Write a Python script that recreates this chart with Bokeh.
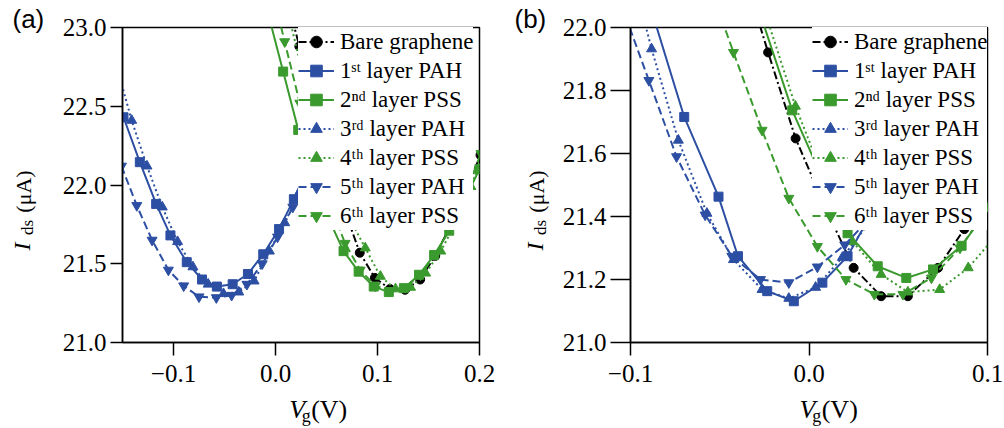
import math
from bokeh.plotting import figure
from bokeh.layouts import row, column
from bokeh.models import Label, Legend, LegendItem, FixedTicker, PrintfTickFormatter
from bokeh.embed import file_html
from bokeh.resources import INLINE

# ---------------- data ----------------
series_labels = ["Bare graphene", "1ˢᵗ layer PAH", "2ⁿᵈ layer PSS", "3ʳᵈ layer PAH",
                 "4ᵗʰ layer PSS", "5ᵗʰ layer PAH", "6ᵗʰ layer PSS"]

# panel (a)
a_bare_x = [0.0086, 0.0234, 0.0382, 0.0530, 0.0678, 0.0826, 0.0974, 0.1122, 0.1270, 0.1418, 0.1566, 0.1714, 0.1862, 0.2010]
a_bare_y = [23.25, 22.88, 22.50, 22.15, 21.84, 21.57, 21.41, 21.34, 21.335, 21.40, 21.55, 21.74, 21.96, 22.19]
a_pah1_x = [-0.149, -0.133, -0.117, -0.103, -0.087, -0.072, -0.0575, -0.042, -0.027, -0.012, 0.0035, 0.018, 0.033, 0.048, 0.063, 0.078, 0.093]
a_pah1_y = [22.43, 22.145, 21.88, 21.68, 21.51, 21.40, 21.355, 21.37, 21.435, 21.56, 21.72, 21.91, 22.13, 22.37, 22.62, 22.88, 23.15]
a_pss2_x = [-0.0073, 0.0075, 0.0223, 0.0371, 0.0519, 0.0667, 0.0815, 0.0963, 0.1111, 0.1259, 0.1407, 0.1555, 0.1703, 0.1851, 0.1999]
a_pss2_y = [23.09, 22.72, 22.35, 22.05, 21.79, 21.58, 21.45, 21.355, 21.32, 21.345, 21.43, 21.555, 21.71, 21.90, 22.10]
a_pah3_x = [-0.156, -0.141, -0.126, -0.111, -0.096, -0.081, -0.066, -0.051, -0.036, -0.021, -0.006, 0.009, 0.024, 0.039, 0.054, 0.069, 0.084]
a_pah3_y = [22.76, 22.41, 22.12, 21.86, 21.64, 21.48, 21.37, 21.31, 21.32, 21.39, 21.58, 21.76, 21.96, 22.20, 22.45, 22.72, 23.00]
a_pss4_x = [0.0140, 0.0288, 0.0436, 0.0584, 0.0732, 0.0880, 0.1028, 0.1176, 0.1324, 0.1472, 0.1620, 0.1768, 0.1916, 0.2064]
a_pss4_y = [23.05, 22.65, 22.30, 22.00, 21.78, 21.60, 21.42, 21.34, 21.35, 21.44, 21.58, 21.76, 21.99, 22.25]
a_pah5_x = [-0.151, -0.136, -0.121, -0.105, -0.090, -0.075, -0.058, -0.043, -0.028, -0.013, 0.002, 0.017, 0.032, 0.047, 0.062, 0.077, 0.092]
a_pah5_y = [22.12, 21.87, 21.65, 21.46, 21.36, 21.29, 21.285, 21.30, 21.37, 21.50, 21.67, 21.86, 22.08, 22.32, 22.58, 22.85, 23.12]
a_pss6_x = [-0.0058, 0.0090, 0.0238, 0.0386, 0.0534, 0.0682, 0.0830, 0.0978, 0.1126, 0.1274, 0.1422, 0.1570, 0.1718, 0.1866, 0.2014]
a_pss6_y = [23.30, 22.91, 22.52, 22.18, 21.88, 21.63, 21.46, 21.36, 21.33, 21.35, 21.43, 21.56, 21.73, 21.95, 22.20]

# panel (b)
b_bare_x = [-0.038, -0.0229, -0.0075, 0.0090, 0.0250, 0.0404, 0.0554, 0.0723, 0.0870, 0.1020]
b_bare_y = [22.20, 21.921, 21.648, 21.43, 21.237, 21.147, 21.147, 21.237, 21.36, 21.51]
b_pah1_x = [-0.088, -0.0699, -0.0507, -0.0398, -0.0234, -0.0085, 0.0075, 0.0216, 0.0330, 0.0480, 0.0630, 0.0780, 0.0930]
b_pah1_y = [22.05, 21.716, 21.463, 21.274, 21.163, 21.131, 21.190, 21.274, 21.390, 21.570, 21.760, 21.960, 22.160]
b_pss2_x = [-0.0260, -0.0094, 0.0060, 0.0216, 0.0385, 0.0545, 0.0695, 0.0855, 0.1010]
b_pss2_y = [22.02, 21.737, 21.540, 21.347, 21.242, 21.205, 21.232, 21.307, 21.430]
b_pah3_x = [-0.1035, -0.0882, -0.0732, -0.0572, -0.0423, -0.0263, -0.0113, 0.0037, 0.0187, 0.0337, 0.0487, 0.0637, 0.0787]
b_pah3_y = [22.27, 21.932, 21.642, 21.410, 21.263, 21.168, 21.140, 21.175, 21.270, 21.380, 21.520, 21.680, 21.860]
b_pss4_x = [-0.0236, -0.0076, 0.0084, 0.0244, 0.0404, 0.0554, 0.0732, 0.0892, 0.1050]
b_pss4_y = [22.03, 21.750, 21.520, 21.320, 21.216, 21.160, 21.168, 21.237, 21.340]
b_pah5_x = [-0.105, -0.0897, -0.0742, -0.0582, -0.0432, -0.0272, -0.0113, 0.0047, 0.0200, 0.0350, 0.0500, 0.0650, 0.0800, 0.0950]
b_pah5_y = [22.07, 21.832, 21.590, 21.405, 21.274, 21.200, 21.190, 21.240, 21.310, 21.400, 21.520, 21.660, 21.830, 22.010]
b_pss6_x = [-0.0580, -0.0423, -0.0263, -0.0113, 0.0047, 0.0207, 0.0366, 0.0526, 0.0686, 0.0846, 0.1006]
b_pss6_y = [22.17, 21.921, 21.674, 21.458, 21.305, 21.200, 21.153, 21.153, 21.205, 21.300, 21.430]

a_xticks = [-0.1, 0.0, 0.1, 0.2]
a_xtick_labels = ["\u22120.1", "0.0", "0.1", "0.2"]
a_yticks = [21.0, 21.5, 22.0, 22.5, 23.0]
b_xticks = [-0.1, 0.0, 0.1]
b_xtick_labels = ["\u22120.1", "0.0", "0.1"]
b_yticks = [21.0, 21.2, 21.4, 21.6, 21.8, 22.0]

# ---------------- styles ----------------
BLUE = "#2c4fa3"
GREEN = "#3a9a2e"
BLACK = "#000000"
styles = [
    (BLACK, "8 3 2 3", "circle", 9),
    (BLUE, "solid", "square", 9),
    (GREEN, "solid", "square", 9),
    (BLUE, "2 3", "triangle", 10),
    (GREEN, "2 3", "triangle", 10),
    (BLUE, "8 4", "inverted_triangle", 10),
    (GREEN, "8 4", "inverted_triangle", 10),
]
SERIF = "Liberation Serif"
SANS = "Liberation Sans"
PAGE_H = 428
PLOT_H = 393


def make_panel(width, bl, br, xr, yr, xticks, xlabels, yticks, ytick_out, series, legend_x):
    p = figure(width=width, height=PLOT_H, x_range=xr, y_range=yr, title=None,
               output_backend="svg", toolbar_location=None,
               min_border_left=bl, min_border_right=br, min_border_top=27,
               min_border_bottom=PLOT_H - 27 - 315)
    p.xgrid.visible = False
    p.ygrid.visible = False
    p.outline_line_color = "black"
    p.outline_line_width = 1.5
    p.outline_line_alpha = 1.0
    p.background_fill_color = "white"
    p.border_fill_color = "white"
    for ax in (p.xaxis[0], p.yaxis[0]):
        ax.axis_line_width = 1.5
        ax.major_tick_line_width = 1.5
        ax.major_tick_in = 0
        ax.minor_tick_line_color = None
        ax.major_label_text_font = SERIF
        ax.major_label_text_font_size = "25px"
        ax.major_label_text_color = "black"
    p.xaxis.major_tick_out = 13
    p.xaxis.major_label_standoff = 9
    p.yaxis.major_tick_out = ytick_out
    p.yaxis.major_label_standoff = 4
    p.xaxis.ticker = FixedTicker(ticks=xticks)
    p.xaxis.major_label_overrides = dict(zip(xticks, xlabels))
    p.yaxis.ticker = FixedTicker(ticks=yticks)
    p.yaxis.formatter = PrintfTickFormatter(format="%.1f")

    items = []
    for (xs, ys), label, (col, dash, mk, sz) in zip(series, series_labels, styles):
        lr = p.line(xs, ys, line_color=col, line_width=2, line_dash=dash)
        sr = p.scatter(xs, ys, marker=mk, size=sz, fill_color=col, line_color=col)
        items.append(LegendItem(label=label, renderers=[lr, sr]))
    legend = Legend(items=items, location=(legend_x, 112), glyph_width=36, glyph_height=29,
                    label_height=29, label_standoff=6, spacing=0, padding=0, margin=0,
                    border_line_color=None, background_fill_color="white", background_fill_alpha=1.0,
                    label_text_font=SERIF, label_text_font_size="23px", label_text_color="black")
    p.add_layout(legend)
    return p


def text_canvas(width, height):
    """A blank figure whose frame fills the canvas; data units equal pixels."""
    p = figure(width=width, height=height, x_range=(0, width), y_range=(0, height), title=None,
               output_backend="svg", toolbar_location=None, min_border=0,
               x_axis_location=None, y_axis_location=None)
    p.grid.visible = False
    p.outline_line_color = None
    p.background_fill_color = "white"
    p.border_fill_color = "white"
    return p


def put(p, left, top, ix, iy, text, size_px, style="normal", font=SERIF, rotated=False):
    """Horizontal text: (ix, iy) = left end of the baseline.
    Rotated text (reading upwards): ix = baseline x, iy = centre of the text along its length.
    The label is anchored at the middle of its font box, ~0.34 em above the baseline."""
    k = 0.3465 if font == SANS else 0.3375
    shift = k * size_px
    if rotated:
        ix -= shift
    else:
        iy -= shift
    x = ix - left
    y = p.height - (iy - top)
    p.add_layout(Label(x=x, y=y, text=text, text_font=font, text_font_size=f"{size_px}px",
                       text_font_style=style, text_color="black",
                       angle=math.pi / 2 if rotated else 0.0,
                       text_align="center" if rotated else "left", text_baseline="middle"))


series_a = [(a_bare_x, a_bare_y), (a_pah1_x, a_pah1_y), (a_pss2_x, a_pss2_y), (a_pah3_x, a_pah3_y),
            (a_pss4_x, a_pss4_y), (a_pah5_x, a_pah5_y), (a_pss6_x, a_pss6_y)]
series_b = [(b_bare_x, b_bare_y), (b_pah1_x, b_pah1_y), (b_pss2_x, b_pss2_y), (b_pah3_x, b_pah3_y),
            (b_pss4_x, b_pss4_y), (b_pah5_x, b_pah5_y), (b_pss6_x, b_pss6_y)]

# page geometry: [ylabA 46][plotA 456][ylabB 52][plotB 450]
pa = make_panel(456, 76, 23, (-0.15, 0.2), (21.0, 23.0), a_xticks, a_xtick_labels, a_yticks, 12, series_a, 176)
pb = make_panel(450, 76, 17, (-0.1, 0.1), (21.0, 22.0), b_xticks, b_xtick_labels, b_yticks, 20, series_b, 182)

ylab_a = text_canvas(46, PAGE_H)
xlab_a = text_canvas(456, PAGE_H - PLOT_H)
ylab_b = text_canvas(52, PAGE_H)
xlab_b = text_canvas(450, PAGE_H - PLOT_H)

for ylab, yl_left, xlab, xl_left, letter, ybase in ((ylab_a, 0, xlab_a, 46, "(a)", 30),
                                                     (ylab_b, 502, xlab_b, 554, "(b)", 543)):
    put(ylab, yl_left, 0, yl_left + 12, 28, letter, 26, font=SANS)
    put(ylab, yl_left, 0, ybase, 246, "I", 24, style="italic", rotated=True)
    put(ylab, yl_left, 0, ybase + 2.5, 227, "ds", 17, rotated=True)
    put(ylab, yl_left, 0, ybase, 191, "(\u03bcA)", 22, rotated=True)
    put(xlab, xl_left, PLOT_H, xl_left + 213, 418, "V", 26, style="italic")
    put(xlab, xl_left, PLOT_H, xl_left + 229, 422, "g", 18)
    put(xlab, xl_left, PLOT_H, xl_left + 241, 418, "(V)", 26)

layout = row(ylab_a, column(pa, xlab_a), ylab_b, column(pb, xlab_b))
open("out.html", "w").write(file_html(layout, INLINE))
